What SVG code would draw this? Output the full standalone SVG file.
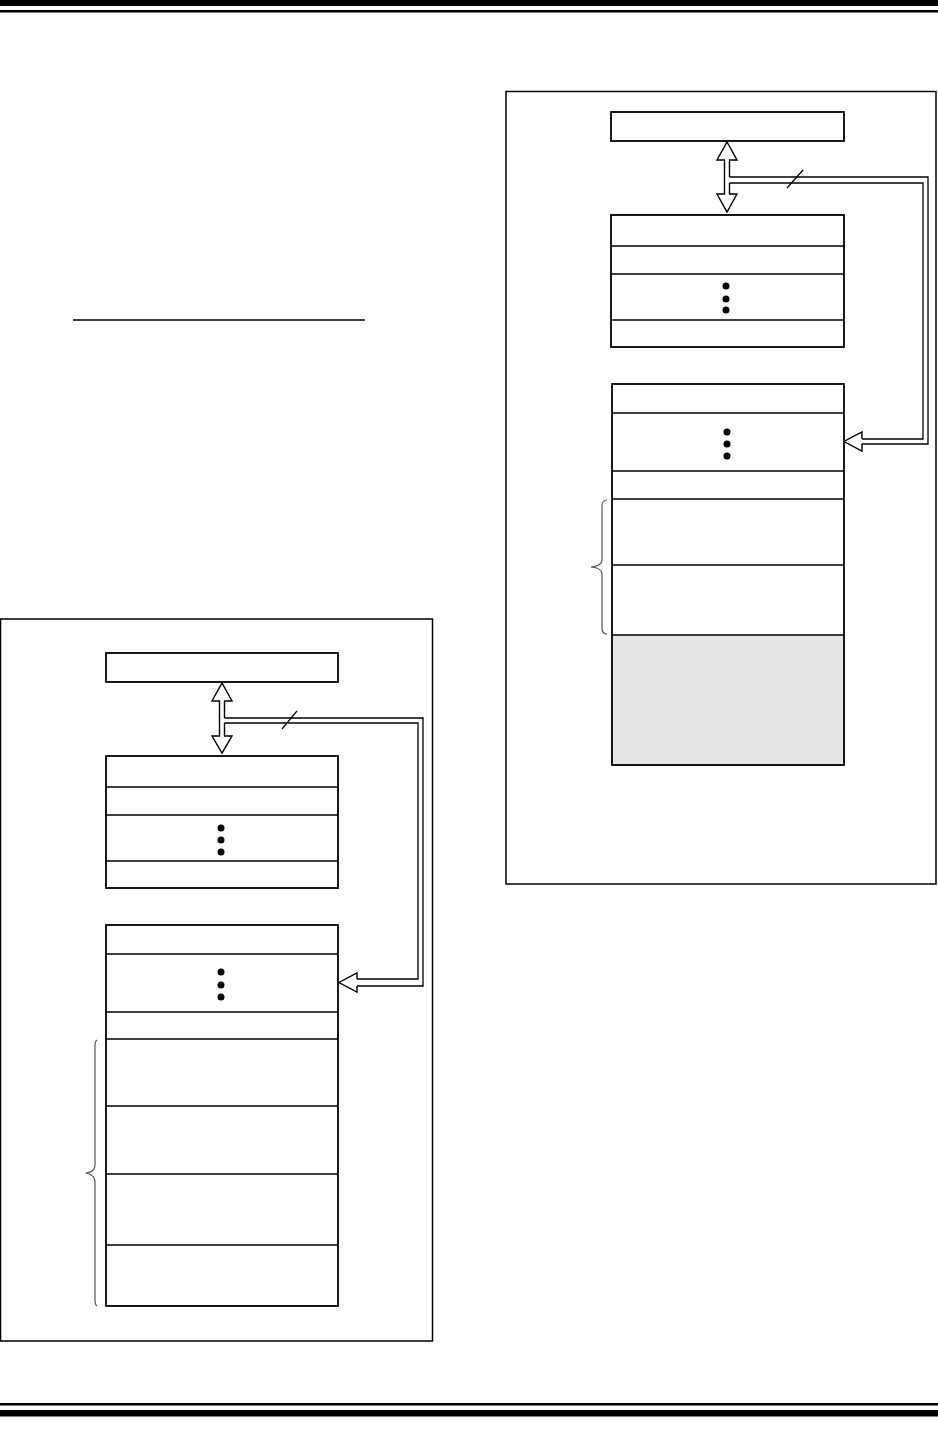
<svg xmlns="http://www.w3.org/2000/svg" width="938" height="1431" viewBox="0 0 938 1431">
<style>
.panel{fill:none;stroke:#000;stroke-width:1.5}
.box{fill:#fff;stroke:#000;stroke-width:1.8}
.row{stroke:#000;stroke-width:1.6}
.bus{fill:none;stroke:#000;stroke-width:1.3}
.harrow{fill:#fff;stroke:#000;stroke-width:1.4}
.brace{fill:none;stroke:#555;stroke-width:1.2}
.dot{fill:#000}
</style>
<g id="rules">
<rect x="0" y="0" width="938" height="6" fill="#000"/>
<rect x="0" y="10" width="938" height="2.5" fill="#000"/>
<rect x="0" y="1403" width="938" height="2.5" fill="#000"/>
<rect x="0" y="1410" width="938" height="6.5" fill="#000"/>
<line x1="73" y1="320" x2="365" y2="320" stroke="#000" stroke-width="1.6"/>
</g>
<g id="left-panel">
<rect class="panel" x="0.5" y="619" width="432" height="722"/>
</g>
<g id="left-top-box">
<rect class="box" x="106" y="653" width="232" height="29"/>
</g>
<g id="left-block-1">
<rect class="box" x="106" y="756" width="232" height="132"/>
<line class="row" x1="106" y1="787" x2="339" y2="787"/>
<line class="row" x1="105" y1="815" x2="338" y2="815"/>
<line class="row" x1="105" y1="861" x2="338" y2="861"/>
<circle class="dot" cx="221" cy="828" r="3.5"/>
<circle class="dot" cx="221" cy="840" r="3.5"/>
<circle class="dot" cx="221" cy="852" r="3.5"/>
</g>
<g id="left-block-2">
<rect class="box" x="106" y="925" width="232" height="381"/>
<line class="row" x1="106" y1="954" x2="338" y2="954"/>
<line class="row" x1="106" y1="1012" x2="338" y2="1012"/>
<line class="row" x1="106" y1="1039" x2="338" y2="1039"/>
<line class="row" x1="106" y1="1106" x2="338" y2="1106"/>
<line class="row" x1="106" y1="1174" x2="338" y2="1174"/>
<line class="row" x1="106" y1="1245" x2="338" y2="1245"/>
<circle class="dot" cx="221" cy="972" r="3.5"/>
<circle class="dot" cx="221" cy="985" r="3.5"/>
<circle class="dot" cx="221" cy="997" r="3.5"/>
<path class="brace" d="M97,1040 Q95,1041 95,1046 V1165 Q95,1172 86,1173 Q95,1175 95,1182 V1300 Q95,1305 97,1306"/>
</g>
<g id="right-panel">
<rect class="panel" x="506" y="91.5" width="430" height="792.5"/>
</g>
<g id="right-top-box">
<rect class="box" x="611" y="112" width="233" height="29"/>
</g>
<g id="right-block-1">
<rect class="box" x="611" y="215" width="233" height="132"/>
<line class="row" x1="611" y1="246" x2="845" y2="246"/>
<line class="row" x1="610" y1="274" x2="844" y2="274"/>
<line class="row" x1="610" y1="320" x2="844" y2="320"/>
<circle class="dot" cx="726" cy="286" r="3.5"/>
<circle class="dot" cx="726" cy="299" r="3.5"/>
<circle class="dot" cx="726" cy="310" r="3.5"/>
</g>
<g id="right-block-2">
<rect x="612" y="635" width="232" height="130" fill="#e6e6e6"/>
<rect class="box" x="612" y="384" width="232" height="381" style="fill:none"/>
<line class="row" x1="612" y1="413" x2="844" y2="413"/>
<line class="row" x1="612" y1="471" x2="844" y2="471"/>
<line class="row" x1="612" y1="499" x2="844" y2="499"/>
<line class="row" x1="612" y1="565" x2="844" y2="565"/>
<line class="row" x1="612" y1="635" x2="844" y2="635"/>
<circle class="dot" cx="727" cy="432" r="3.5"/>
<circle class="dot" cx="727" cy="444" r="3.5"/>
<circle class="dot" cx="727" cy="456" r="3.5"/>
<path class="brace" d="M607,500 Q602,500 602,506 V560 Q602,566 591,567 Q602,568 602,574 V628 Q602,634 607,634"/>
</g>
<g id="connectors">
<path class="harrow" d="M224.5,718 V701 H232 L222,683 L212,701 H219.5 V736 H212 L222,753 L232,736 H224.5 V723"/>
<path class="bus" d="M224.5,718 H423 V986 H357"/>
<path class="bus" d="M224.5,723 H418 V979 H357"/>
<path class="harrow" d="M357,979 V973 L339,982.5 L357,992 V986"/>
<line x1="282" y1="729" x2="297" y2="711" stroke="#000" stroke-width="1.2"/>
<path class="harrow" d="M729.5,177 V160 H737 L727,142 L717,160 H724.5 V194 H717 L727,212 L737,194 H729.5 V183"/>
<path class="bus" d="M729.5,177 H928 V444 H862"/>
<path class="bus" d="M729.5,183 H923 V439 H862"/>
<path class="harrow" d="M862,439 V432 L844,441.5 L862,451 V444"/>
<line x1="787" y1="188" x2="803" y2="170" stroke="#000" stroke-width="1.2"/>
</g>
</svg>
